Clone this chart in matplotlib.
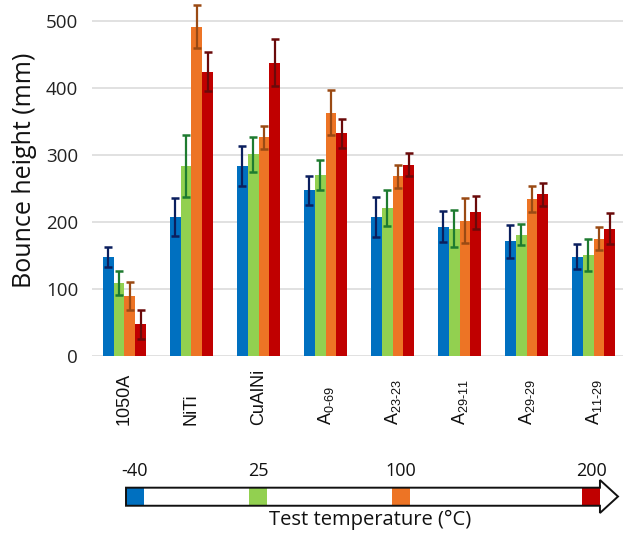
import matplotlib
matplotlib.use("Agg")
import matplotlib.pyplot as plt
from matplotlib.patches import Polygon, Rectangle
import matplotlib.transforms as mtransforms

plt.rcParams["mathtext.fontset"] = "custom"
plt.rcParams["mathtext.rm"] = "Liberation Sans"
plt.rcParams["mathtext.it"] = "Liberation Sans:italic"
plt.rcParams["mathtext.bf"] = "Liberation Sans:bold"

# -----------------------------
# Data
# -----------------------------
materials = ["1050A", "NiTi", "CuAlNi",
             "A$_{\\mathregular{0\u201069}}$", "A$_{\\mathregular{23\u201023}}$",
             "A$_{\\mathregular{29\u201011}}$", "A$_{\\mathregular{29\u201029}}$",
             "A$_{\\mathregular{11\u201029}}$"]
temps = [-40, 25, 100, 200]

h_m40 = [148, 207, 283, 247, 207, 193, 171, 148]
h_25 = [109, 283, 301, 270, 221, 190, 181, 151]
h_100 = [90, 491, 326, 363, 268, 202, 234, 175]
h_200 = [47, 424, 437, 332, 285, 214, 241, 190]

e_m40 = [15, 28, 30, 22, 30, 23, 25, 19]
e_25 = [18, 46, 26, 23, 27, 27, 16, 24]
e_100 = [21, 32, 17, 33, 17, 34, 20, 17]
e_200 = [21, 29, 35, 22, 17, 25, 17, 23]

heights = [h_m40, h_25, h_100, h_200]
errors = [e_m40, e_25, e_100, e_200]

bar_colors = ["#0070C0", "#92D050", "#ED7425", "#C00000"]
err_colors = ["#0B1F5E", "#1E7B30", "#9A4A14", "#6A0A0A"]

# -----------------------------
# Figure
# -----------------------------
W, H = 623, 538
fig = plt.figure(figsize=(W / 100, H / 100), dpi=100)

ax_l, ax_r, ax_b, ax_t = 92, 623, 356, 0.6
ax = fig.add_axes([ax_l / W, (H - ax_b) / H, (ax_r - ax_l) / W, (ax_b - ax_t) / H])

x = list(range(len(materials)))
bw = 0.162
for k in range(4):
    xs = [i + (k - 1.5) * bw for i in x]
    ax.bar(xs, heights[k], width=bw, color=bar_colors[k], zorder=2)
    ax.errorbar(xs, heights[k], yerr=errors[k], fmt="none", ecolor=err_colors[k],
                elinewidth=1.6, capsize=2.9, capthick=1.8, zorder=3)

ax.set_xlim(-0.485, 7.44)
ax.set_ylim(0, 530)
ax.set_yticks([0, 100, 200, 300, 400, 500])
ax.set_xticks([])
ax.grid(axis="y", color="#D9D9D9", linewidth=1.1, zorder=0)
ax.set_axisbelow(True)
for s in ax.spines.values():
    s.set_visible(False)
ax.tick_params(axis="y", length=0, pad=10, labelsize=13.5, labelcolor="#222222")
for lab in ax.get_yticklabels():
    lab.set_fontfamily("Open Sans")

ax.set_ylabel("Bounce height (mm)", fontsize=18, family="Open Sans", color="#111111")
ax.yaxis.set_label_coords(-0.104, 0.523)

trans = mtransforms.blended_transform_factory(ax.transData, ax.transAxes)
for i, name in enumerate(materials):
    ax.text(i, -0.194, name, transform=trans, rotation=90, ha="center", va="bottom",
            fontsize=13, family="Liberation Sans", color="#111111")

# -----------------------------
# Temperature arrow legend
# -----------------------------
px0, px1 = 126, 618          # pixel extent of the arrow
t0, t1 = -44.7, 214.2        # temperature at those pixels
lg = fig.add_axes([px0 / W, (H - 513) / H, (px1 - px0) / W, 33 / H])
lg.set_xlim(t0, t1)
lg.set_ylim(0, 1)
lg.axis("off")

body_lo, body_hi = 0.22, 0.767
head_start = 204.7
sq = 4.74
for k, t in enumerate(temps):
    lg.add_patch(Rectangle((t - sq, body_lo), 2 * sq, body_hi - body_lo,
                           facecolor=bar_colors[k], edgecolor="none", zorder=2))
    lg.text(t, 1.0, str(t), ha="center", va="bottom", fontsize=13,
            family="Open Sans", color="#111111")

arrow = Polygon([(t0, body_lo), (head_start, body_lo), (head_start, 0.0),
                 (t1, 0.5), (head_start, 1.0), (head_start, body_hi), (t0, body_hi)],
                closed=True, facecolor="none", edgecolor="#111111", linewidth=1.4,
                zorder=3, clip_on=False)
lg.add_patch(arrow)

fig.text(370 / W, 1 - 510 / H, "Test temperature (°C)", ha="center", va="top",
         fontsize=14.5, family="Open Sans", color="#111111")

fig.savefig("out.png", dpi=100, facecolor="white")
